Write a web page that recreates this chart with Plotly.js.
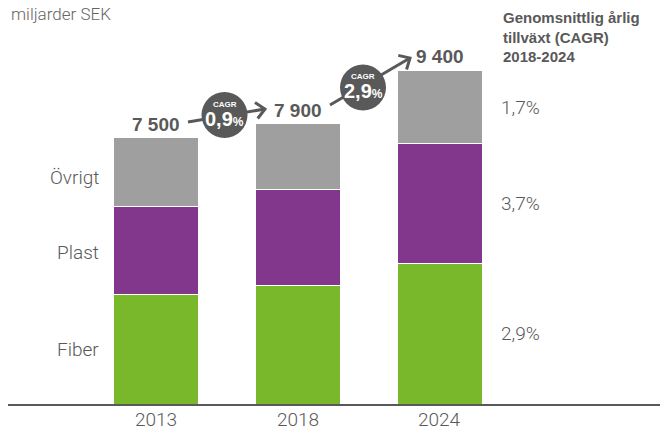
<!DOCTYPE html>
<html><head><meta charset="utf-8">
<script src="https://cdn.plot.ly/plotly-3.0.1.min.js"></script>
<style>body{margin:0;padding:0;background:#fff}#chart{width:660px;height:431px}</style>
</head><body><div id="chart"></div>
<script>
const years = ['2013', '2018', '2024'];
const fiber = [3080, 3330, 3970];
const plast = [2490, 2710, 3360];
const ovrigt = [1930, 1860, 2070];
const totals = ['7 500', '7 900', '9 400'];
const totalValues = [7500, 7900, 9400];
const seriesNames = ['Fiber', 'Plast', 'Övrigt'];
const cagrRight = ['2,9%', '3,7%', '1,7%'];
const cagrBetween = ['0,9', '2,9'];

const dark = '#595959';
const colors = ['#78B82A', '#82368C', '#9F9F9F'];
const series = [fiber, plast, ovrigt];
const LIGHT = {family: 'Roboto, Liberation Sans, Arial, sans-serif', weight: 300, color: dark};
const BOLD = 'Liberation Sans, Arial, sans-serif';

const traces = series.map((vals, k) => ({
  type: 'bar', x: [0, 1, 2], y: vals, name: seriesNames[k],
  marker: {color: colors[k], line: {color: '#ffffff', width: 1}},
  hoverinfo: 'skip'
}));

// plot area in pixels: x 8..660, y 49..404
const L = 8, R = 660, T = 49, B = 404;
const P = (px, py) => ({x: (px - L) / (R - L), y: (B - py) / (B - T)});

const annotations = [];
const shapes = [];

// category labels under the axis
years.forEach((yr, i) => {
  annotations.push({x: i, y: 0, xref: 'x', yref: 'paper', text: yr, showarrow: false,
    xanchor: 'center', yanchor: 'top', yshift: -2, font: Object.assign({size: 19}, LIGHT)});
});

// total labels
totalValues.forEach((v, i) => {
  annotations.push({x: i, y: v, xref: 'x', yref: 'y', text: '<b>' + totals[i] + '</b>',
    showarrow: false, xanchor: 'center', yanchor: 'bottom', yshift: 1,
    font: {size: 19, color: dark, family: BOLD}});
});

// left segment labels and right CAGR labels
const mid = (i, k) => series.slice(0, k).reduce((s, a) => s + a[i], 0) + series[k][i] / 2;
const leftShift = [0, -2, -5];
seriesNames.forEach((n, k) => {
  annotations.push({x: -0.385, y: mid(0, k), xref: 'x', yref: 'y', text: n, showarrow: false,
    xanchor: 'right', yanchor: 'middle', yshift: leftShift[k], font: Object.assign({size: 19}, LIGHT)});
  annotations.push({x: 2.42, y: mid(2, k), xref: 'x', yref: 'y', text: cagrRight[k], showarrow: false,
    xanchor: 'left', yanchor: 'middle', font: Object.assign({size: 19}, LIGHT)});
});

// arrows
function arrow(x0, y0, x1, y1) {
  let a = P(x0, y0), b = P(x1, y1);
  shapes.push({type: 'line', xref: 'paper', yref: 'paper', x0: a.x, y0: a.y, x1: b.x, y1: b.y,
    line: {color: dark, width: 3}});
  const ang = Math.atan2(y1 - y0, x1 - x0);
  const len = 12, spread = 0.75;
  const p1 = P(x1 - len * Math.cos(ang - spread), y1 - len * Math.sin(ang - spread));
  const p2 = P(x1 - len * Math.cos(ang + spread), y1 - len * Math.sin(ang + spread));
  shapes.push({type: 'path', xref: 'paper', yref: 'paper',
    path: `M ${p1.x} ${p1.y} L ${b.x} ${b.y} L ${p2.x} ${p2.y}`,
    line: {color: dark, width: 3}});
}
arrow(188, 122, 265, 109);
arrow(330, 105, 410, 58);

// circles
function circle(cx, cy, r, val) {
  const a = P(cx - r, cy - r), b = P(cx + r, cy + r);
  shapes.push({type: 'circle', xref: 'paper', yref: 'paper', x0: a.x, y0: b.y, x1: b.x, y1: a.y,
    fillcolor: dark, line: {width: 0}});
  const c1 = P(cx, cy - 11), c2 = P(cx, cy + 4);
  annotations.push({x: c1.x, y: c1.y, xref: 'paper', yref: 'paper', xanchor: 'center', yanchor: 'middle',
    text: '<b>CAGR</b>', showarrow: false,
    font: {size: 8, color: '#ffffff', family: BOLD}});
  annotations.push({x: c2.x, y: c2.y, xref: 'paper', yref: 'paper', xanchor: 'center', yanchor: 'middle',
    text: '<b>' + val + '<span style="font-size:12px">%</span></b>', showarrow: false,
    font: {size: 20, color: '#ffffff', family: BOLD}});
}
circle(224.5, 115, 23, cagrBetween[0]);
circle(363, 87.5, 23, cagrBetween[1]);

// headers
annotations.push({x: P(9, 0).x, y: P(0, 2).y, xref: 'paper', yref: 'paper', yanchor: 'top', xanchor: 'left',
  text: 'miljarder SEK', showarrow: false, font: Object.assign({size: 17}, LIGHT, {color: '#666666'})});
annotations.push({x: P(501, 0).x, y: P(0, 7).y, xref: 'paper', yref: 'paper', yanchor: 'top', xanchor: 'left', align: 'left',
  text: '<b>Genomsnittlig årlig<br>tillväxt (CAGR)<br>2018-2024</b>', showarrow: false,
  font: {size: 15, color: dark, family: BOLD}});

const layout = {
  width: 660, height: 431,
  margin: {l: L, r: 660 - R, t: T, b: 431 - B},
  paper_bgcolor: '#ffffff', plot_bgcolor: '#ffffff',
  barmode: 'stack', bargap: 0.4, showlegend: false,
  xaxis: {range: [-1.04, 3.55], showticklabels: false, showgrid: false, zeroline: false,
    showline: true, linecolor: dark, linewidth: 2, ticks: ''},
  yaxis: {range: [0, 10000], visible: false, showgrid: false, zeroline: false},
  annotations: annotations, shapes: shapes,
  font: {family: 'Liberation Sans, Arial, sans-serif'}
};
Plotly.newPlot('chart', traces, layout, {displayModeBar: false, staticPlot: true});
</script></body></html>
